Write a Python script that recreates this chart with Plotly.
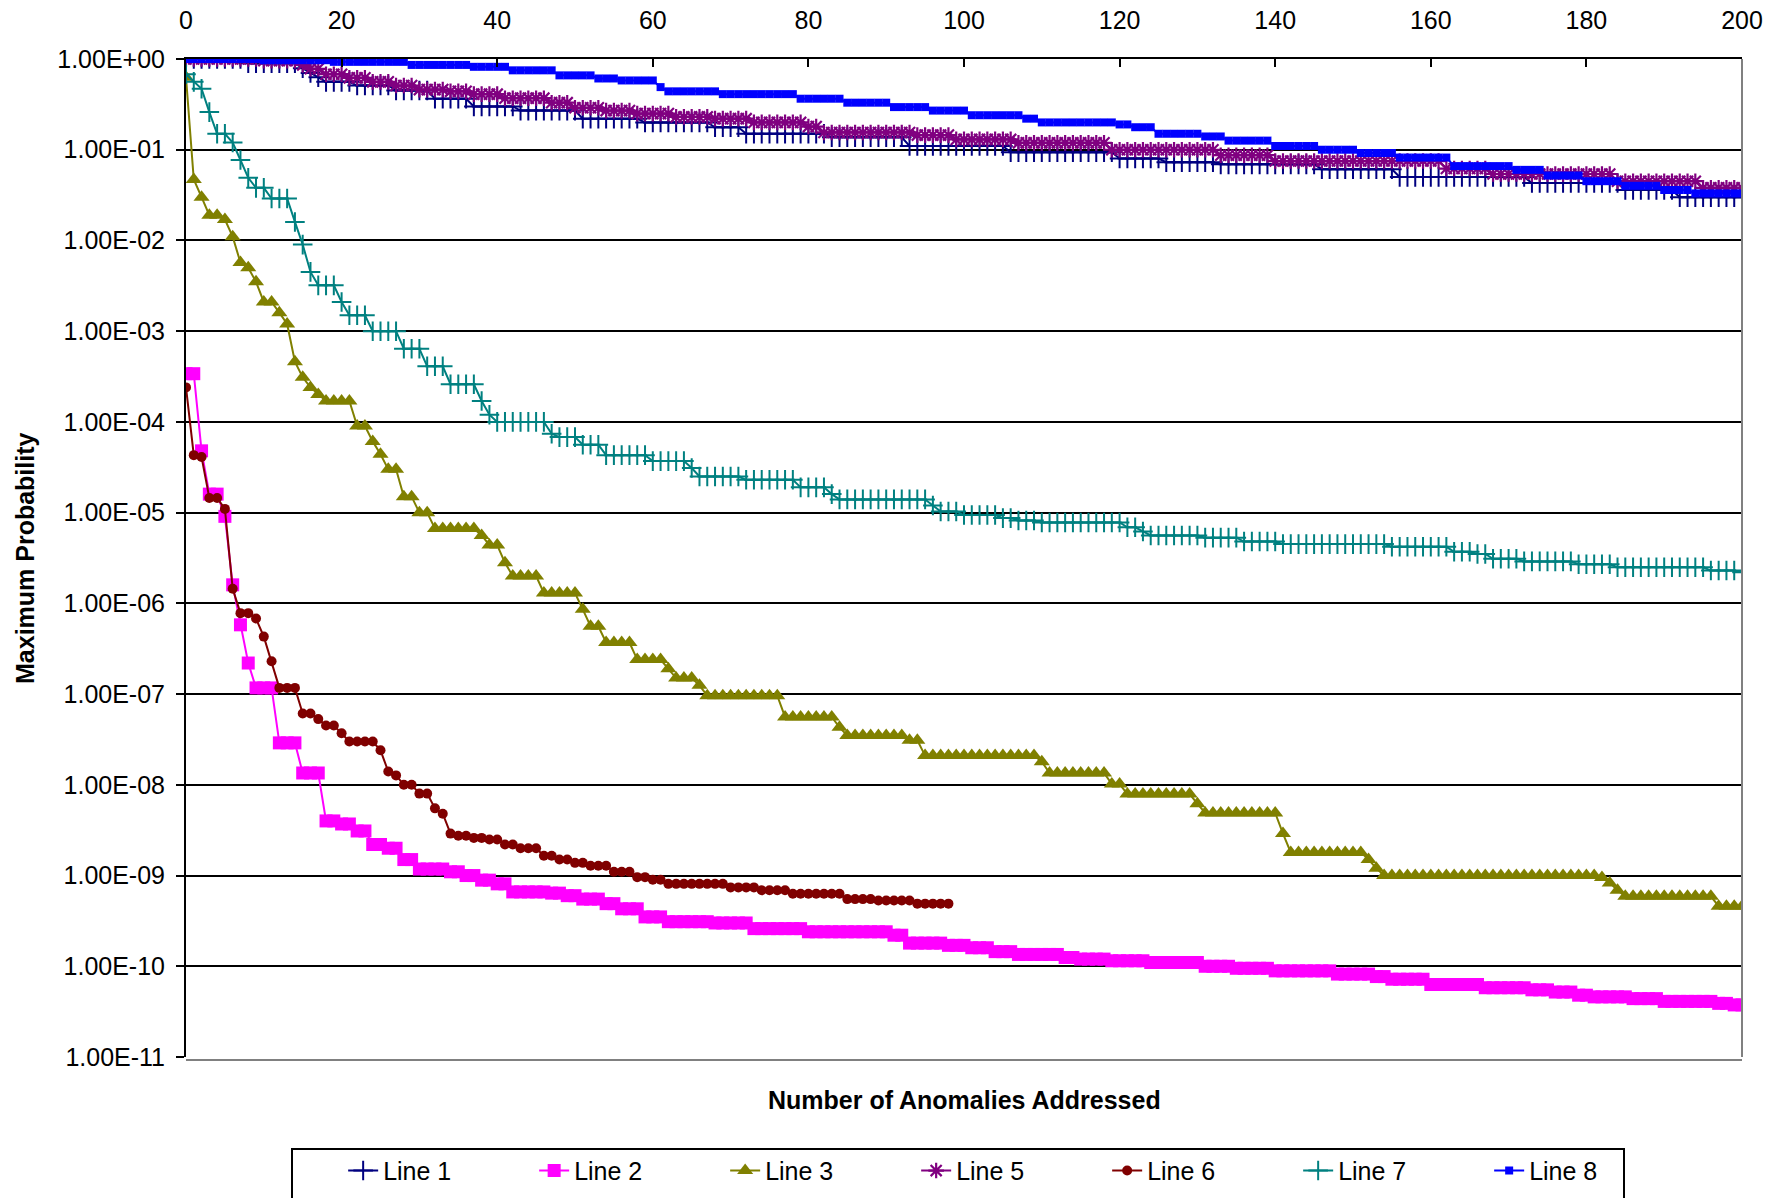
import numpy as np
import plotly.graph_objects as go

# ---- data: (value, run length), x = 0,1,2,...
LINE1 = [(1.0, 8), (0.9, 7), (0.79, 1), (0.7, 1), (0.63, 1), (0.56, 4), (0.51, 5), (0.45, 5),
         (0.365, 5), (0.30, 6), (0.27, 8), (0.22, 8), (0.20, 9), (0.177, 4), (0.15, 11),
         (0.137, 10), (0.11, 13), (0.094, 14), (0.08, 6), (0.073, 7), (0.069, 13),
         (0.061, 10), (0.05, 17), (0.043, 12), (0.036, 7), (0.030, 9)]
LINE2 = [(3.4e-4, 2), (4.8e-5, 1), (1.6e-5, 2), (9.1e-6, 1), (1.6e-6, 1), (5.8e-7, 1),
         (2.2e-7, 1), (1.17e-7, 3), (2.9e-8, 3), (1.35e-8, 3), (4.0e-9, 2), (3.7e-9, 2),
         (3.1e-9, 2), (2.2e-9, 2), (2.0e-9, 2), (1.5e-9, 2), (1.18e-9, 4), (1.1e-9, 2),
         (1.0e-9, 2), (8.9e-10, 2), (8.1e-10, 2), (6.6e-10, 5), (6.4e-10, 2), (6.0e-10, 2),
         (5.5e-10, 3), (4.9e-10, 2), (4.3e-10, 3), (3.5e-10, 3), (3.1e-10, 6), (3.0e-10, 5),
         (2.6e-10, 7), (2.4e-10, 11), (2.2e-10, 2), (1.8e-10, 5), (1.7e-10, 3), (1.6e-10, 3),
         (1.45e-10, 3), (1.35e-10, 6), (1.25e-10, 2), (1.2e-10, 4), (1.15e-10, 5),
         (1.1e-10, 7), (1.0e-10, 4), (9.5e-11, 5), (8.9e-11, 8), (8.2e-11, 5), (7.7e-11, 2),
         (7.2e-11, 5), (6.3e-11, 7), (5.8e-11, 6), (5.5e-11, 3), (5.2e-11, 3), (4.8e-11, 2),
         (4.6e-11, 5), (4.4e-11, 4), (4.1e-11, 7), (3.9e-11, 2), (3.75e-11, 2)]
LINE3 = [(0.63, 1), (0.047, 1), (0.030, 1), (0.019, 2), (0.017, 1), (0.011, 1), (0.0057, 1),
         (0.005, 1), (0.0035, 1), (0.0021, 2), (0.0016, 1), (0.0012, 1), (4.6e-4, 1),
         (3.1e-4, 1), (2.4e-4, 1), (2.0e-4, 1), (1.7e-4, 4), (9.0e-5, 2), (6.1e-5, 1),
         (4.4e-5, 1), (3.0e-5, 2), (1.5e-5, 2), (1.0e-5, 2), (6.7e-6, 6), (5.6e-6, 1),
         (4.4e-6, 2), (2.8e-6, 1), (2.0e-6, 4), (1.3e-6, 5), (8.6e-7, 1), (5.6e-7, 2),
         (3.7e-7, 4), (2.4e-7, 4), (1.9e-7, 1), (1.5e-7, 3), (1.25e-7, 1), (9.6e-8, 10),
         (5.6e-8, 7), (4.3e-8, 1), (3.5e-8, 8), (3.1e-8, 2), (2.1e-8, 15), (1.8e-8, 1),
         (1.35e-8, 8), (1.02e-8, 2), (7.9e-9, 9), (6.2e-9, 1), (4.9e-9, 10), (2.9e-9, 1),
         (1.8e-9, 10), (1.5e-9, 1), (1.2e-9, 1), (1.0e-9, 28), (9.5e-10, 1), (8.3e-10, 1),
         (6.9e-10, 1), (5.9e-10, 12), (4.6e-10, 4)]
LINE5 = [(1.0, 10), (0.96, 5), (0.86, 1), (0.78, 2), (0.68, 3), (0.62, 3), (0.56, 3),
         (0.51, 3), (0.46, 4), (0.44, 3), (0.41, 4), (0.37, 6), (0.33, 3), (0.29, 4),
         (0.27, 4), (0.25, 5), (0.23, 5), (0.22, 5), (0.20, 7), (0.18, 2), (0.155, 12),
         (0.145, 5), (0.13, 8), (0.119, 12), (0.10, 14), (0.087, 7), (0.075, 22),
         (0.062, 6), (0.054, 16), (0.045, 11), (0.038, 6)]
LINE6 = [(2.4e-4, 1), (4.3e-5, 1), (4.1e-5, 1), (1.45e-5, 2), (1.1e-5, 1), (1.45e-6, 1),
         (7.8e-7, 2), (6.8e-7, 1), (4.3e-7, 1), (2.3e-7, 1), (1.17e-7, 3), (6.1e-8, 2),
         (5.3e-8, 1), (4.5e-8, 2), (3.7e-8, 1), (3.0e-8, 4), (2.4e-8, 1), (1.4e-8, 1),
         (1.27e-8, 1), (1.0e-8, 2), (8.0e-9, 2), (5.5e-9, 1), (4.8e-9, 1), (2.9e-9, 1),
         (2.75e-9, 2), (2.6e-9, 2), (2.5e-9, 2), (2.2e-9, 2), (2.0e-9, 3), (1.65e-9, 2),
         (1.5e-9, 2), (1.38e-9, 2), (1.28e-9, 3), (1.1e-9, 3), (9.6e-10, 2), (9.0e-10, 2),
         (8.1e-10, 8), (7.4e-10, 4), (6.9e-10, 4), (6.3e-10, 7), (5.5e-10, 4), (5.3e-10, 5),
         (4.9e-10, 5)]
LINE7 = [(0.68, 1), (0.56, 1), (0.47, 1), (0.26, 1), (0.15, 2), (0.12, 1), (0.077, 1),
         (0.049, 1), (0.038, 2), (0.029, 3), (0.016, 1), (0.009, 1), (0.0045, 1),
         (0.0032, 3), (0.0021, 1), (0.0015, 3), (0.001, 4), (6.4e-4, 3), (4.1e-4, 3),
         (2.6e-4, 4), (1.7e-4, 1), (1.2e-4, 1), (1.0e-4, 7), (7.4e-5, 1), (6.8e-5, 3),
         (5.6e-5, 3), (4.3e-5, 6), (3.7e-5, 5), (3.1e-5, 1), (2.5e-5, 6), (2.3e-5, 7),
         (1.9e-5, 4), (1.6e-5, 1), (1.4e-5, 12), (1.2e-5, 1), (1.03e-5, 3), (9.4e-6, 5),
         (8.7e-6, 2), (8.2e-6, 3), (7.8e-6, 11), (6.9e-6, 2), (6.2e-6, 1), (5.6e-6, 7),
         (5.3e-6, 5), (4.8e-6, 5), (4.5e-6, 14), (4.2e-6, 8), (3.7e-6, 3), (3.5e-6, 2),
         (3.1e-6, 4), (2.9e-6, 7), (2.7e-6, 5), (2.5e-6, 12), (2.3e-6, 4), (2.2e-6, 1)]
LINE8 = [(1.0, 10), (0.97, 9), (0.93, 10), (0.86, 8), (0.82, 5), (0.75, 6), (0.66, 5),
         (0.61, 3), (0.58, 5), (0.49, 1), (0.44, 7), (0.41, 10), (0.365, 6), (0.33, 6),
         (0.295, 5), (0.27, 5), (0.24, 7), (0.22, 2), (0.20, 10), (0.19, 2), (0.177, 3),
         (0.15, 6), (0.14, 3), (0.126, 6), (0.11, 6), (0.10, 5), (0.092, 5), (0.082, 7),
         (0.066, 8), (0.06, 4), (0.052, 5), (0.045, 5), (0.040, 5), (0.036, 4), (0.033, 7)]

SERIES_NAMES = ["Line 1", "Line 2", "Line 3", "Line 5", "Line 6", "Line 7", "Line 8"]
X_TICKS = [0, 20, 40, 60, 80, 100, 120, 140, 160, 180, 200]
Y_TICKS = [1e0, 1e-1, 1e-2, 1e-3, 1e-4, 1e-5, 1e-6, 1e-7, 1e-8, 1e-9, 1e-10, 1e-11]
Y_TICK_TEXT = ["1.00E+00", "1.00E-01", "1.00E-02", "1.00E-03", "1.00E-04", "1.00E-05",
               "1.00E-06", "1.00E-07", "1.00E-08", "1.00E-09", "1.00E-10", "1.00E-11"]
X_TITLE = "Number of Anomalies Addressed"
Y_TITLE = "Maximum Probability"


def expand(runs):
    vals = []
    for v, n in runs:
        vals.extend([v] * n)
    return vals


FONT = "Liberation Sans, Arial, sans-serif"

styles = [
    dict(color="#000080", symbol="cross-thin-open", size=14, mlw=2),
    dict(color="#FF00FF", symbol="square", size=13, mlw=0),
    dict(color="#808000", symbol="triangle-up", size=14, mlw=0),
    dict(color="#800080", symbol="asterisk-open", size=13, mlw=2.2),
    dict(color="#800000", symbol="circle", size=10, mlw=0),
    dict(color="#008080", symbol="cross-thin-open", size=14, mlw=2),
    dict(color="#0000FF", symbol="square", size=8, mlw=0),
]

fig = go.Figure()
for name, runs, st in zip(SERIES_NAMES, [LINE1, LINE2, LINE3, LINE5, LINE6, LINE7, LINE8], styles):
    y = expand(runs)
    x = list(range(len(y)))
    fig.add_trace(go.Scatter(
        x=x, y=y, name=name, mode="lines+markers",
        line=dict(color=st["color"], width=2),
        marker=dict(symbol=st["symbol"], size=st["size"], color=st["color"],
                    line=dict(color=st["color"], width=st["mlw"])),
    ))

fig.update_layout(
    width=1788, height=1198,
    margin=dict(l=186, r=46, t=59, b=141, autoexpand=False),
    paper_bgcolor="white", plot_bgcolor="white",
    font=dict(family=FONT, size=25, color="black"),
    showlegend=True,
    legend=dict(orientation="h", x=0.101, xanchor="left", y=-0.091, yanchor="top",
                entrywidth=146, entrywidthmode="pixels",
                font=dict(family=FONT, size=25, color="black"),
                borderwidth=0, bgcolor="rgba(0,0,0,0)"),
)

fig.update_xaxes(
    range=[0, 200], side="top", tickvals=X_TICKS, ticktext=[str(v) for v in X_TICKS],
    ticks="inside", ticklen=8, tickwidth=2, tickcolor="black",
    showline=True, linecolor="black", linewidth=2, showgrid=False, zeroline=False,
    ticklabelstandoff=18,
)
fig.update_yaxes(
    type="log", range=[-11, 0], tickvals=Y_TICKS, ticktext=Y_TICK_TEXT,
    ticks="outside", ticklen=8, tickwidth=2, tickcolor="black",
    showline=True, linecolor="black", linewidth=2,
    showgrid=True, gridcolor="black", gridwidth=2, zeroline=False,
    ticklabelstandoff=6,
)

# plot-area frame (grey right/bottom edges) and legend box
fig.add_shape(type="line", xref="paper", yref="paper", x0=1, x1=1, y0=0, y1=1,
              line=dict(color="#808080", width=2))
fig.add_shape(type="line", xref="paper", yref="paper", x0=0, x1=1, y0=-0.003, y1=-0.003,
              line=dict(color="#808080", width=2))
fig.add_shape(type="rect", xref="paper", yref="paper",
              x0=(292 - 186) / 1556, x1=(1624 - 186) / 1556,
              y0=-(1215 - 1057) / 998, y1=-(1149 - 1057) / 998,
              line=dict(color="black", width=2), fillcolor="rgba(0,0,0,0)")

fig.add_annotation(text="<b>" + X_TITLE + "</b>", xref="paper", yref="paper",
                   x=0.5, y=-43 / 998, xanchor="center", yanchor="middle",
                   showarrow=False, font=dict(family=FONT, size=25, color="black"))
fig.add_annotation(text="<b>" + Y_TITLE + "</b>", xref="paper", yref="paper",
                   x=(25 - 186) / 1556, y=(1057 - 558) / 998, xanchor="center", yanchor="middle",
                   textangle=-90, showarrow=False, font=dict(family=FONT, size=25, color="black"))

fig.write_html("out.html")
